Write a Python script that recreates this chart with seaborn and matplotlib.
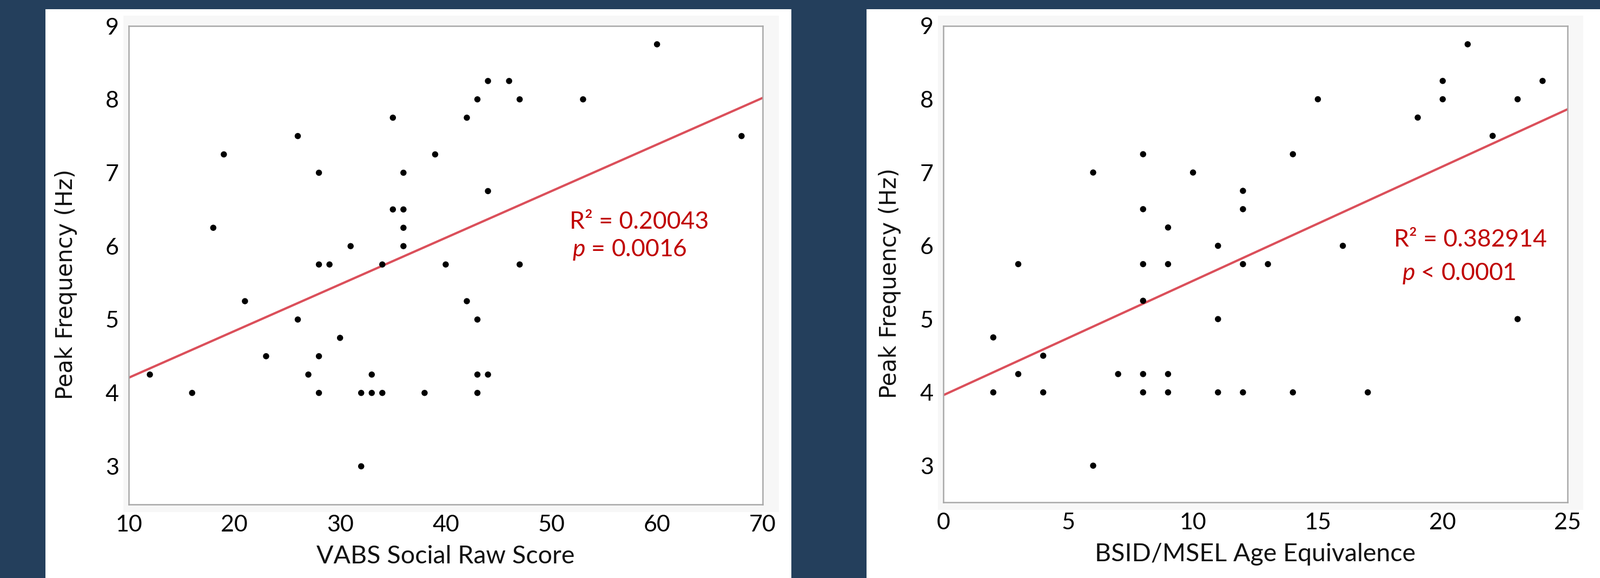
import matplotlib
matplotlib.use('Agg')
import pandas as pd
import matplotlib.pyplot as plt
import seaborn as sns
from matplotlib.ticker import MultipleLocator
from matplotlib.patches import Rectangle

# Left panel: VABS social raw score vs peak frequency
vabs_score = [12, 16, 18, 19, 21, 23, 26, 26, 27, 28, 28, 28, 28, 29, 30, 31,
              32, 32, 33, 33, 34, 34, 35, 35, 36, 36, 36, 36, 38, 39, 40, 42,
              42, 43, 43, 43, 43, 44, 44, 44, 46, 47, 47, 53, 60, 68]
vabs_peak = [4.25, 4.0, 6.25, 7.25, 5.25, 4.5, 7.5, 5.0, 4.25, 7.0, 5.75, 4.5,
             4.0, 5.75, 4.75, 6.0, 4.0, 3.0, 4.25, 4.0, 5.75, 4.0, 7.75, 6.5,
             7.0, 6.5, 6.25, 6.0, 4.0, 7.25, 5.75, 7.75, 5.25, 8.0, 5.0, 4.25,
             4.0, 8.25, 6.75, 4.25, 8.25, 8.0, 5.75, 8.0, 8.75, 7.5]

# Right panel: BSID/MSEL age equivalence vs peak frequency
bsid_age = [2, 2, 3, 3, 4, 4, 6, 6, 7, 8, 8, 8, 8, 8, 8, 9, 9, 9, 9, 10, 11,
            11, 11, 12, 12, 12, 12, 13, 14, 14, 15, 16, 17, 19, 20, 20, 21, 22,
            23, 23, 24]
bsid_peak = [4.75, 4.0, 5.75, 4.25, 4.5, 4.0, 7.0, 3.0, 4.25, 7.25, 6.5, 5.75,
             5.25, 4.25, 4.0, 6.25, 5.75, 4.25, 4.0, 7.0, 6.0, 5.0, 4.0, 6.75,
             6.5, 5.75, 4.0, 5.75, 7.25, 4.0, 8.0, 6.0, 4.0, 7.75, 8.25, 8.0,
             8.75, 7.5, 8.0, 5.0, 8.25]

left_stats = ['R² = 0.20043', '$p$ = 0.0016']
right_stats = ['R² = 0.382914', '$p$ < 0.0001']

df_vabs = pd.DataFrame({'score': vabs_score, 'peak': vabs_peak})
df_bsid = pd.DataFrame({'age': bsid_age, 'peak': bsid_peak})

sns.set_style('white')
plt.rcParams['font.family'] = ['Lato', 'DejaVu Sans']
plt.rcParams['mathtext.fontset'] = 'custom'
plt.rcParams['mathtext.it'] = 'Lato:italic'
plt.rcParams['mathtext.rm'] = 'Lato'

W, H = 2958, 1069
navy = '#243f5c'
spine_gray = '#a8a8a8'
red_line = '#db4f5a'
red_text = '#c00000'

fig = plt.figure(figsize=(W / 100, H / 100), dpi=100, facecolor=navy)


def px_rect(x0, y0, x1, y1, color, z):
    """Retângulo em pixels (origem no topo)."""
    fig.patches.append(Rectangle((x0 / W, 1 - y1 / H), (x1 - x0) / W, (y1 - y0) / H,
                                 transform=fig.transFigure, color=color,
                                 zorder=z, lw=0))


# painéis brancos e moldura cinza clara
px_rect(84, 17, 1463, H, 'white', -3)
px_rect(1602, 17, W, H, 'white', -3)
px_rect(228, 29, 1440, 947, '#f7f7f7', -2)
px_rect(1734, 29, 2927, 943, '#f7f7f7', -2)

ax1 = fig.add_axes([238 / W, 1 - 933 / H, 1172 / W, 885 / H])
ax2 = fig.add_axes([1744 / W, 1 - 929 / H, 1154 / W, 881 / H])
ax1.set_xlim(10, 70)
ax1.set_ylim(2.48, 9)
ax2.set_xlim(0, 25)
ax2.set_ylim(2.5, 9)

# linhas de regressão (calculadas pelo seaborn) e pontos
sns.regplot(data=df_vabs, x='score', y='peak', ax=ax1, scatter=False, ci=None,
            truncate=False, color=red_line, line_kws={'lw': 3})
sns.scatterplot(data=df_vabs, x='score', y='peak', ax=ax1, color='black',
                s=68, edgecolor='none', zorder=3)
sns.regplot(data=df_bsid, x='age', y='peak', ax=ax2, scatter=False, ci=None,
            truncate=False, color=red_line, line_kws={'lw': 3})
sns.scatterplot(data=df_bsid, x='age', y='peak', ax=ax2, color='black',
                s=68, edgecolor='none', zorder=3)


def style_axis(ax, xlim, ylim, xmajor, xminor, xlabel, ylab_x, ylab_y):
    ax.set_facecolor('white')
    ax.set_xlim(*xlim)
    ax.set_ylim(*ylim)
    ax.xaxis.set_major_locator(MultipleLocator(xmajor))
    ax.xaxis.set_minor_locator(MultipleLocator(xminor))
    ax.yaxis.set_major_locator(MultipleLocator(1))
    ax.yaxis.set_minor_locator(MultipleLocator(0.5))
    for sp in ax.spines.values():
        sp.set_visible(True)
        sp.set_color(spine_gray)
        sp.set_linewidth(1.8)
    ax.tick_params(axis='both', which='both', direction='out', color=spine_gray,
                   width=1.4, labelsize=31, labelcolor='black')
    ax.tick_params(axis='x', which='major', length=8.5, pad=5)
    ax.tick_params(axis='x', which='minor', length=4.5)
    ax.tick_params(axis='y', which='major', length=7, pad=6)
    ax.tick_params(axis='y', which='minor', length=5)
    ax.set_xlabel(xlabel, fontsize=33.5, color='#111111')
    ax.xaxis.set_label_coords(0.5, -0.085)
    ax.set_ylabel('Peak Frequency (Hz)', fontsize=30, family='DejaVu Sans',
                  color='#111111')
    ax.yaxis.set_label_coords(ylab_x, ylab_y)


style_axis(ax1, (10, 70), (2.48, 9), 10, 5, 'VABS Social Raw Score', -0.081, 0.46)
style_axis(ax2, (0, 25), (2.5, 9), 5, 2.5, 'BSID/MSEL Age Equivalence', -0.068, 0.46)

# textos de estatística
ax1.text(51.7, 6.24, left_stats[0], color=red_text, fontsize=32, va='baseline')
ax1.text(52.0, 5.86, left_stats[1], color=red_text, fontsize=32, va='baseline')
ax2.text(18.05, 5.99, right_stats[0], color=red_text, fontsize=32, va='baseline')
ax2.text(18.37, 5.53, right_stats[1], color=red_text, fontsize=32, va='baseline')

fig.savefig('out.png', dpi=100, facecolor=navy)
